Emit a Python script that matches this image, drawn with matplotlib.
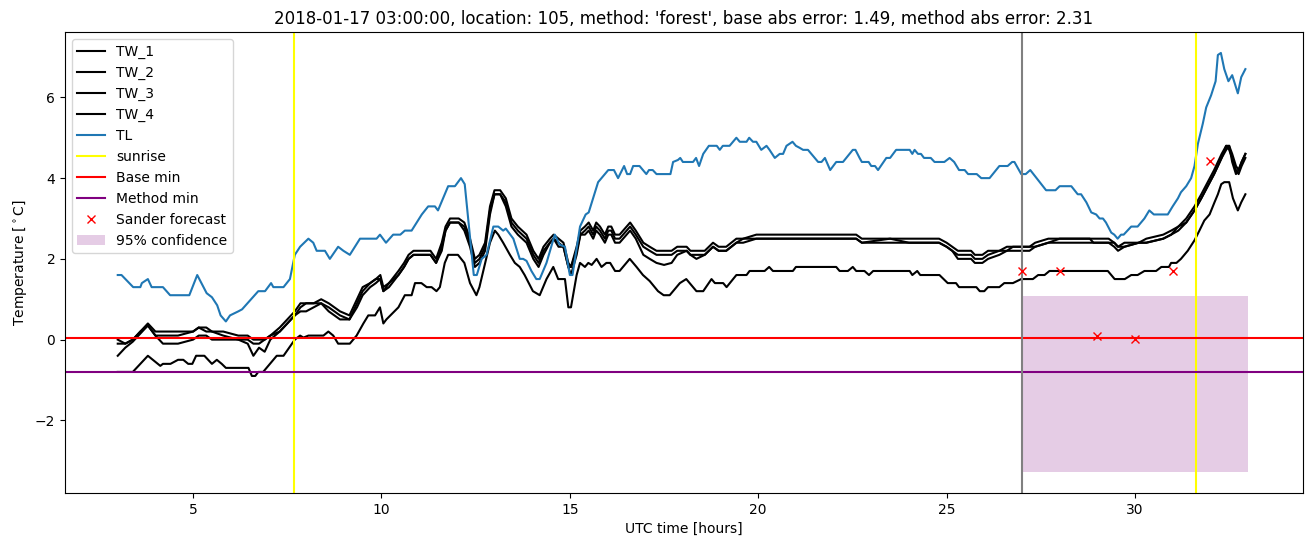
import numpy as np
import matplotlib
matplotlib.use("Agg")
import matplotlib.pyplot as plt

# Hours since 2018-01-17 00:00 UTC
t_tw = [3.0, 3.2, 3.4, 3.6, 3.8, 4.0, 4.2, 4.6, 5.0, 5.15,
        5.35, 5.5, 5.8, 6.2, 6.45, 6.6, 6.75, 6.9, 7.05, 7.3,
        7.5, 7.7, 7.85, 8.0, 8.2, 8.4, 8.6, 8.9, 9.15, 9.35,
        9.5, 9.7, 9.85, 9.97, 10.05, 10.2, 10.45, 10.6, 10.72, 10.85,
        11.1, 11.3, 11.45, 11.6, 11.7, 11.82, 12.05, 12.2, 12.35, 12.48,
        12.6, 12.75, 12.88, 13.0, 13.15, 13.3, 13.45, 13.62, 13.85, 14.03,
        14.17, 14.3, 14.47, 14.57, 14.7, 14.83, 14.96, 15.03, 15.18, 15.28,
        15.4, 15.5, 15.62, 15.7, 15.8, 15.93, 16.02, 16.1, 16.2, 16.32,
        16.6, 16.75, 16.95, 17.12, 17.3, 17.5, 17.7, 17.85, 18.1, 18.2,
        18.36, 18.58, 18.8, 18.95, 19.15, 19.42, 19.6, 19.95, 20.5, 21.0,
        21.5, 22.2, 22.6, 22.75, 23.5, 24.0, 24.8, 25.0, 25.15, 25.3,
        25.65, 25.75, 25.95, 26.1, 26.4, 26.6, 26.76, 27.2, 27.35, 27.7,
        28.0, 28.8, 28.9, 29.3, 29.45, 29.55, 29.72, 30.1, 30.3, 30.75,
        30.96, 31.15, 31.36, 31.58, 31.76, 31.93, 32.1, 32.3, 32.42, 32.5,
        32.58, 32.68, 32.75, 32.83, 32.93]

tw_1 = [0.0, -0.1, 0.0, 0.2, 0.4, 0.2, 0.2, 0.2, 0.2, 0.3,
        0.3, 0.2, 0.2, 0.1, 0.1, 0.0, 0.0, 0.0, 0.1, 0.3,
        0.5, 0.7, 0.9, 0.9, 0.9, 1.0, 0.9, 0.7, 0.6, 1.0,
        1.3, 1.4, 1.5, 1.6, 1.3, 1.4, 1.7, 1.9, 2.1, 2.2,
        2.2, 2.2, 2.0, 2.4, 2.8, 3.0, 3.0, 2.9, 2.5, 2.0,
        2.1, 2.4, 3.3, 3.7, 3.7, 3.5, 3.0, 2.8, 2.6, 2.2,
        2.0, 2.3, 2.5, 2.6, 2.5, 2.4, 1.9, 1.8, 2.3, 2.7,
        2.8, 2.9, 2.7, 2.9, 2.8, 2.6, 2.8, 2.8, 2.6, 2.6,
        2.9, 2.7, 2.4, 2.3, 2.2, 2.2, 2.2, 2.3, 2.3, 2.2,
        2.2, 2.2, 2.4, 2.3, 2.3, 2.5, 2.5, 2.6, 2.6, 2.6,
        2.6, 2.6, 2.6, 2.5, 2.5, 2.5, 2.5, 2.4, 2.3, 2.2,
        2.2, 2.1, 2.1, 2.2, 2.2, 2.3, 2.3, 2.3, 2.4, 2.5,
        2.5, 2.5, 2.5, 2.5, 2.4, 2.3, 2.4, 2.4, 2.5, 2.6,
        2.7, 2.8, 3.0, 3.3, 3.6, 3.9, 4.2, 4.6, 4.8, 4.8,
        4.6, 4.3, 4.2, 4.4, 4.6]

tw_2 = [-0.1, -0.1, 0.0, 0.2, 0.35, 0.1, 0.1, 0.1, 0.2, 0.3,
        0.2, 0.2, 0.1, 0.0, 0.0, -0.1, -0.1, 0.0, 0.1, 0.2,
        0.4, 0.6, 0.8, 0.9, 0.9, 0.9, 0.8, 0.6, 0.5, 0.9,
        1.2, 1.4, 1.5, 1.5, 1.2, 1.4, 1.6, 1.8, 2.0, 2.1,
        2.1, 2.1, 1.9, 2.3, 2.7, 2.9, 2.9, 2.8, 2.4, 1.9,
        2.0, 2.3, 3.2, 3.6, 3.6, 3.4, 2.9, 2.7, 2.5, 2.1,
        1.9, 2.2, 2.4, 2.5, 2.4, 2.3, 1.8, 1.8, 2.2, 2.6,
        2.7, 2.8, 2.6, 2.8, 2.7, 2.5, 2.7, 2.7, 2.5, 2.5,
        2.8, 2.6, 2.3, 2.2, 2.1, 2.1, 2.1, 2.2, 2.2, 2.1,
        2.1, 2.1, 2.3, 2.2, 2.2, 2.4, 2.5, 2.5, 2.5, 2.5,
        2.5, 2.5, 2.5, 2.4, 2.5, 2.4, 2.4, 2.3, 2.2, 2.1,
        2.1, 2.0, 2.0, 2.1, 2.2, 2.2, 2.3, 2.3, 2.3, 2.4,
        2.5, 2.5, 2.4, 2.4, 2.4, 2.3, 2.3, 2.4, 2.4, 2.5,
        2.6, 2.8, 2.9, 3.2, 3.5, 3.8, 4.1, 4.5, 4.8, 4.7,
        4.5, 4.2, 4.1, 4.3, 4.5]

tw_3 = [-0.4, -0.2, -0.05, 0.15, 0.35, 0.1, -0.1, -0.1, 0.0, 0.1,
        0.1, 0.0, 0.0, 0.0, -0.1, -0.4, -0.2, -0.3, 0.0, 0.2,
        0.4, 0.6, 0.7, 0.7, 0.8, 0.9, 0.7, 0.5, 0.5, 0.8,
        1.1, 1.3, 1.4, 1.5, 1.2, 1.3, 1.6, 1.8, 2.0, 2.1,
        2.1, 2.1, 1.9, 2.2, 2.7, 2.9, 2.9, 2.7, 2.3, 1.8,
        1.9, 2.2, 3.1, 3.6, 3.6, 3.3, 2.8, 2.6, 2.4, 2.0,
        1.8, 2.1, 2.4, 2.5, 2.3, 2.3, 1.8, 1.6, 2.1, 2.6,
        2.6, 2.7, 2.5, 2.7, 2.6, 2.4, 2.6, 2.6, 2.4, 2.4,
        2.7, 2.5, 2.1, 2.0, 1.9, 1.85, 1.9, 2.1, 2.2, 2.1,
        2.0, 2.1, 2.3, 2.2, 2.2, 2.4, 2.4, 2.5, 2.5, 2.5,
        2.5, 2.5, 2.5, 2.4, 2.4, 2.4, 2.4, 2.3, 2.2, 2.0,
        2.0, 1.9, 1.9, 2.0, 2.1, 2.2, 2.2, 2.2, 2.3, 2.4,
        2.4, 2.4, 2.4, 2.4, 2.3, 2.2, 2.3, 2.4, 2.4, 2.5,
        2.6, 2.7, 2.9, 3.2, 3.5, 3.8, 4.1, 4.5, 4.7, 4.8,
        4.4, 4.1, 4.2, 4.4, 4.6]

t_tw4 = [3.0, 3.4, 3.8, 4.13, 4.2, 4.4, 4.6, 4.74, 4.87, 4.98,
         5.08, 5.3, 5.5, 5.63, 5.76, 5.87, 6.47, 6.56, 6.65, 6.73,
         6.86, 6.95, 7.22, 7.4, 7.7, 7.84, 7.93, 8.06, 8.46, 8.59,
         8.72, 8.85, 9.16, 9.34, 9.52, 9.65, 9.83, 9.96, 10.05, 10.13,
         10.45, 10.62, 10.8, 10.89, 11.06, 11.2, 11.33, 11.46, 11.55, 11.68,
         11.77, 12.03, 12.2, 12.35, 12.52, 12.6, 12.88, 13.01, 13.1, 13.23,
         13.41, 13.54, 13.67, 13.8, 14.02, 14.2, 14.38, 14.56, 14.69, 14.87,
         14.96, 15.03, 15.18, 15.27, 15.4, 15.49, 15.58, 15.71, 15.84, 15.97,
         16.07, 16.2, 16.32, 16.59, 16.77, 16.94, 17.12, 17.34, 17.49, 17.65,
         17.92, 18.09, 18.18, 18.36, 18.54, 18.76, 18.85, 19.07, 19.16, 19.42,
         19.69, 19.77, 20.17, 20.29, 20.39, 20.92, 21.0, 22.07, 22.16, 22.38,
         22.51, 22.6, 22.82, 22.94, 23.05, 24.02, 24.09, 24.22, 24.3, 24.81,
         25.03, 25.25, 25.33, 25.79, 25.88, 26.0, 26.1, 26.4, 26.53, 26.76,
         26.98, 27.29, 27.43, 27.6, 27.73, 29.28, 29.46, 29.73, 29.9, 30.07,
         30.25, 30.56, 30.7, 30.9, 30.96, 31.1, 31.22, 31.4, 31.58, 31.71,
         31.84, 31.98, 32.11, 32.2, 32.29, 32.37, 32.5, 32.6, 32.73, 32.82,
         32.93]

tw_4 = [-0.8, -0.8, -0.4, -0.65, -0.6, -0.6, -0.5, -0.5, -0.6, -0.6,
        -0.4, -0.4, -0.6, -0.5, -0.6, -0.7, -0.7, -0.9, -0.9, -0.8,
        -0.8, -0.7, -0.4, -0.4, 0.0, 0.1, 0.05, 0.1, 0.1, 0.2,
        0.1, -0.1, -0.1, 0.1, 0.4, 0.6, 0.6, 0.8, 0.4, 0.5,
        0.8, 1.1, 1.1, 1.4, 1.4, 1.3, 1.3, 1.2, 1.3, 1.9,
        2.1, 2.1, 1.9, 1.4, 1.1, 1.3, 2.4, 2.7, 2.6, 2.4,
        2.1, 1.9, 1.8, 1.6, 1.2, 1.1, 1.5, 1.8, 1.5, 1.5,
        0.8, 0.8, 1.6, 1.9, 1.8, 1.9, 1.85, 2.0, 1.8, 1.9,
        1.9, 1.7, 1.7, 2.0, 1.8, 1.6, 1.45, 1.2, 1.1, 1.1,
        1.4, 1.5, 1.4, 1.2, 1.2, 1.5, 1.4, 1.4, 1.3, 1.6,
        1.6, 1.7, 1.7, 1.8, 1.7, 1.7, 1.8, 1.8, 1.7, 1.7,
        1.8, 1.7, 1.7, 1.6, 1.7, 1.7, 1.6, 1.7, 1.6, 1.6,
        1.4, 1.4, 1.3, 1.3, 1.2, 1.2, 1.3, 1.3, 1.4, 1.4,
        1.5, 1.5, 1.6, 1.6, 1.7, 1.7, 1.5, 1.5, 1.6, 1.6,
        1.7, 1.7, 1.8, 1.8, 1.9, 1.9, 2.0, 2.2, 2.46, 2.7,
        2.95, 3.1, 3.4, 3.6, 3.85, 3.9, 3.9, 3.5, 3.2, 3.4,
        3.6]

t_tl = [3.0, 3.1, 3.41, 3.6, 3.64, 3.8, 3.9, 4.2, 4.39, 4.9,
        5.11, 5.36, 5.5, 5.64, 5.73, 5.87, 5.98, 6.2, 6.3, 6.73,
        6.91, 7.07, 7.13, 7.4, 7.57, 7.7, 7.84, 8.06, 8.19, 8.28,
        8.5, 8.63, 8.85, 8.99, 9.16, 9.43, 9.87, 9.96, 10.12, 10.31,
        10.5, 10.62, 10.8, 11.07, 11.24, 11.42, 11.5, 11.77, 11.95, 12.11,
        12.21, 12.3, 12.45, 12.53, 12.66, 12.79, 12.97, 13.1, 13.23, 13.3,
        13.5, 13.67, 13.76, 13.85, 13.98, 14.11, 14.2, 14.38, 14.6, 14.73,
        14.87, 15.0, 15.07, 15.27, 15.42, 15.5, 15.75, 16.02, 16.17, 16.28,
        16.44, 16.52, 16.6, 16.68, 16.85, 17.03, 17.1, 17.2, 17.3, 17.67,
        17.74, 17.87, 17.93, 18.0, 18.27, 18.35, 18.43, 18.54, 18.69, 18.9,
        18.98, 19.06, 19.24, 19.42, 19.51, 19.69, 19.76, 19.86, 19.95, 20.08,
        20.22, 20.3, 20.44, 20.57, 20.66, 20.75, 20.91, 21.0, 21.1, 21.19,
        21.32, 21.59, 21.68, 21.77, 21.91, 22.07, 22.25, 22.51, 22.58, 22.69,
        22.75, 22.93, 23.0, 23.1, 23.18, 23.4, 23.5, 23.66, 24.02, 24.09,
        24.15, 24.24, 24.32, 24.4, 24.58, 24.68, 24.94, 25.08, 25.2, 25.33,
        25.48, 25.57, 25.8, 25.92, 26.14, 26.4, 26.62, 26.74, 26.8, 26.98,
        27.1, 27.22, 27.64, 27.89, 28.0, 28.31, 28.48, 28.57, 28.71, 28.84,
        28.97, 29.06, 29.15, 29.23, 29.37, 29.45, 29.54, 29.63, 29.7, 29.9,
        30.07, 30.25, 30.38, 30.5, 30.87, 31.0, 31.14, 31.22, 31.36, 31.49,
        31.58, 31.67, 31.8, 31.89, 32.02, 32.14, 32.2, 32.28, 32.37, 32.48,
        32.58, 32.73, 32.82, 32.93]

tl = [1.6, 1.6, 1.3, 1.3, 1.4, 1.5, 1.3, 1.3, 1.1, 1.1,
      1.6, 1.15, 1.05, 0.85, 0.6, 0.45, 0.6, 0.7, 0.75, 1.2,
      1.2, 1.4, 1.3, 1.3, 1.5, 2.1, 2.3, 2.5, 2.4, 2.2,
      2.2, 2.0, 2.3, 2.2, 2.1, 2.5, 2.5, 2.6, 2.4, 2.6,
      2.6, 2.7, 2.7, 3.1, 3.3, 3.3, 3.2, 3.8, 3.8, 4.0,
      3.85, 3.0, 1.6, 1.6, 2.0, 2.1, 2.8, 2.8, 2.7, 2.75,
      2.5, 2.0, 2.0, 1.95, 1.7, 1.5, 1.5, 1.9, 2.6, 2.35,
      2.3, 1.6, 1.6, 2.8, 3.1, 3.15, 3.9, 4.2, 4.2, 4.0,
      4.3, 4.1, 4.1, 4.3, 4.3, 4.1, 4.2, 4.2, 4.1, 4.1,
      4.4, 4.45, 4.5, 4.4, 4.4, 4.5, 4.3, 4.6, 4.8, 4.8,
      4.7, 4.8, 4.8, 5.0, 4.9, 4.9, 5.0, 4.9, 4.9, 4.7,
      4.8, 4.7, 4.5, 4.6, 4.6, 4.8, 4.9, 4.8, 4.75, 4.7,
      4.7, 4.4, 4.4, 4.5, 4.2, 4.4, 4.4, 4.7, 4.7, 4.5,
      4.4, 4.4, 4.3, 4.3, 4.2, 4.5, 4.5, 4.7, 4.7, 4.6,
      4.7, 4.6, 4.6, 4.5, 4.5, 4.4, 4.4, 4.5, 4.4, 4.2,
      4.2, 4.1, 4.1, 4.0, 4.0, 4.3, 4.3, 4.4, 4.4, 4.1,
      4.1, 4.2, 3.7, 3.7, 3.8, 3.8, 3.6, 3.6, 3.4, 3.15,
      3.1, 3.0, 3.0, 2.9, 2.65, 2.6, 2.5, 2.6, 2.6, 2.8,
      2.8, 3.0, 3.2, 3.1, 3.1, 3.3, 3.5, 3.65, 3.8, 4.0,
      4.3, 4.85, 5.35, 5.75, 6.05, 6.4, 7.05, 7.1, 6.7, 6.4,
      6.55, 6.1, 6.5, 6.7]

sunrise = [7.68, 31.62]
base_min = 0.03
method_min = -0.8
forecast_start = 27.0

sander_t = [27, 28, 29, 30, 31, 32]
sander_val = [1.7, 1.7, 0.08, 0.02, 1.7, 4.43]

conf_t = [27.0, 33.0]
conf_low = [-3.28, -3.28]
conf_high = [1.08, 1.08]

title = ("2018-01-17 03:00:00, location: 105, method: 'forest', "
         "base abs error: 1.49, method abs error: 2.31")

fig, ax = plt.subplots(figsize=(13.13, 5.47), dpi=100)
fig.subplots_adjust(left=0.0495, right=0.9924, top=0.9415, bottom=0.0987)

ax.plot(t_tw, tw_1, color='black', label='TW_1')
ax.plot(t_tw, tw_2, color='black', label='TW_2')
ax.plot(t_tw, tw_3, color='black', label='TW_3')
ax.plot(t_tw4, tw_4, color='black', label='TW_4')
ax.plot(t_tl, tl, color='tab:blue', label='TL')

for i, s in enumerate(sunrise):
  ax.axvline(s, color='yellow', label='sunrise' if i == 0 else None)
ax.axhline(base_min, color='red', label='Base min')
ax.axhline(method_min, color='purple', label='Method min')
ax.axvline(forecast_start, color='gray')

ax.plot(sander_t, sander_val, 'x', color='red', label='Sander forecast')
ax.fill_between(conf_t, conf_low, conf_high, color='purple', alpha=0.2,
                linewidth=0, label='95% confidence')

ax.set_xlim(1.6, 34.46)
ax.set_title(title)
ax.set_xlabel('UTC time [hours]')
ax.set_ylabel(r'Temperature [$^\circ$C]')
ax.legend(loc='upper left')

plt.savefig('out.png', dpi=100)
